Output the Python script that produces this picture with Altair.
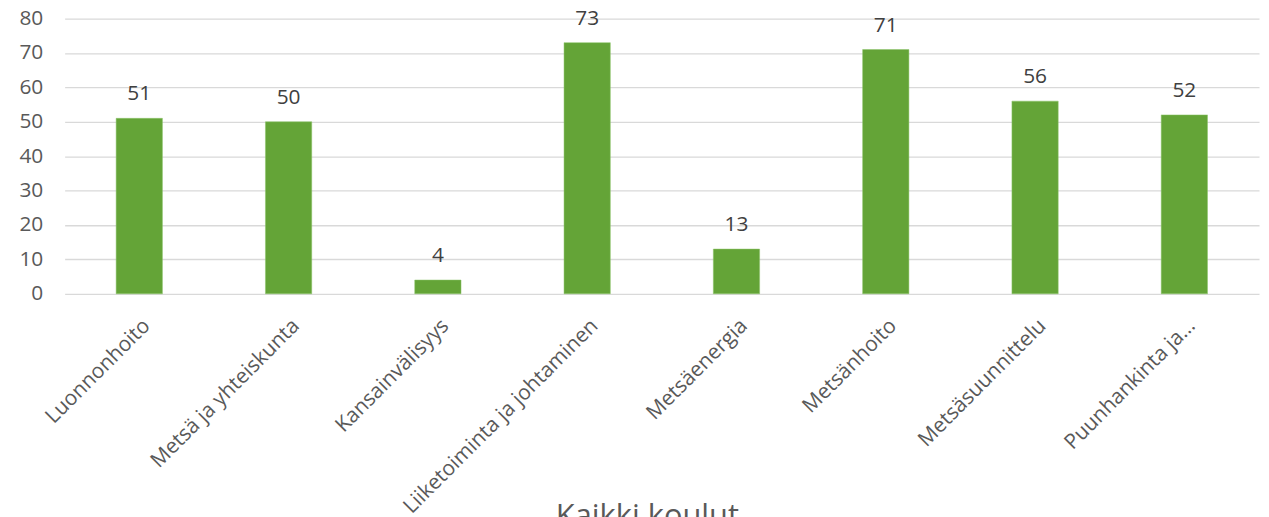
import altair as alt
import pandas as pd

categories = ["Luonnonhoito", "Metsä ja yhteiskunta", "Kansainvälisyys",
              "Liiketoiminta ja johtaminen", "Metsäenergia", "Metsänhoito",
              "Metsäsuunnittelu", "Puunhankinta ja…"]
values = [51, 50, 4, 73, 13, 71, 56, 52]
y_ticks = [0, 10, 20, 30, 40, 50, 60, 70, 80]

df = pd.DataFrame({"cat": categories, "val": values})

FONT = "Open Sans"
x = alt.X("cat:N", sort=categories,
          scale=alt.Scale(paddingInner=0.69, paddingOuter=0.345),
          axis=alt.Axis(title="Kaikki koulut", labelAngle=-45, labelAlign="right",
                        labelBaseline="top", labelPadding=21, ticks=False, domain=False,
                        labelFont=FONT, labelFontSize=21, labelColor="#595959",
                        labelLimit=400, labelOverlap=False,
                        titleFont=FONT, titleFontSize=31, titleFontWeight="normal",
                        titleColor="#595959", titleX=586, titleY=233,
                        titleAlign="center", titleBaseline="alphabetic"))
y = alt.Y("val:Q", scale=alt.Scale(domain=[0, 80], nice=False),
          axis=alt.Axis(title=None, values=y_ticks, ticks=False,
                        domain=False, labelFont=FONT, labelFontSize=21,
                        labelColor="#595959", labelPadding=22, labelOverlap=False,
                        gridColor="#d9d9d9", gridWidth=1.3))

base = alt.Chart(df).encode(x=x, y=y)
bars = base.mark_bar(color="#64a437", stroke="#8bc46a", strokeWidth=0.5)
labels = base.mark_text(dy=-18, baseline="alphabetic", font=FONT, fontSize=21,
                        color="#404040").encode(text="val:Q")

chart = (bars + labels).properties(
    width=1202, height=277,
    autosize=alt.AutoSizeParams(type="none"),
    padding={"left": 57, "top": 9, "right": 2, "bottom": 223},
).configure_view(stroke=None)

chart.save("out.html", embed_options={"renderer": "svg", "actions": False})
